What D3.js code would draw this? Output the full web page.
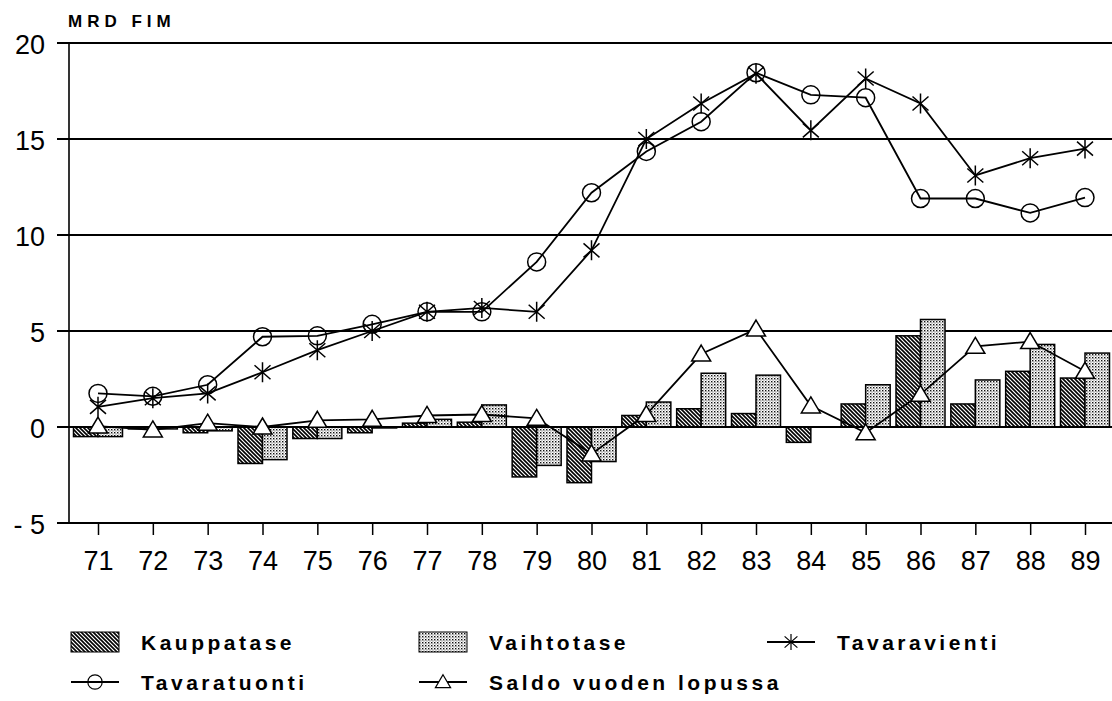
<html>
<head>
<script src="https://d3js.org/d3.v7.min.js"></script>
<style>
  body { margin: 0; background: #fff; }
  svg { display: block; }
  text { font-family: "Liberation Sans", Arial, Helvetica, sans-serif; fill: #000; }
</style>
</head>
<body>
<svg width="1112" height="701"></svg>
<script>
// values, MRD FIM
var years = ["71","72","73","74","75","76","77","78","79","80","81","82","83","84","85","86","87","88","89"];
var kauppatase   = [-0.5,-0.1,-0.3,-1.9,-0.6,-0.3,0.2,0.25,-2.6,-2.9,0.6,0.95,0.7,-0.8,1.2,4.75,1.2,2.9,2.55];
var vaihtotase   = [-0.5,-0.1,-0.2,-1.7,-0.6,-0.05,0.4,1.15,-2.0,-1.8,1.3,2.8,2.7,0.0,2.2,5.6,2.45,4.3,3.85];
var tavaravienti = [1.05,1.5,1.75,2.85,4.0,5.0,6.0,6.2,6.0,9.2,15.0,16.85,18.4,15.45,18.15,16.85,13.1,14.0,14.5];
var tavaratuonti = [1.75,1.6,2.2,4.7,4.75,5.35,6.0,6.0,8.6,12.2,14.35,15.9,18.45,17.3,17.15,11.9,11.9,11.15,11.95];
var saldo        = [0.05,-0.15,0.2,0.0,0.35,0.4,0.6,0.65,0.45,-1.4,0.65,3.8,5.1,1.1,-0.3,1.7,4.2,4.45,2.9];
var yTicks = [-5,0,5,10,15,20];
var legendNames = ["Kauppatase","Vaihtotase","Tavaravienti","Tavaratuonti","Saldo vuoden lopussa"];

var svg = d3.select("svg");

// patterns for the bars
var defs = svg.append("defs");
var hatch = defs.append("pattern").attr("id","hatch")
  .attr("patternUnits","userSpaceOnUse").attr("width",4).attr("height",4);
hatch.append("rect").attr("width",4).attr("height",4).attr("fill","#fff");
hatch.append("path").attr("d","M-1,-1 L5,5 M-1,3 L1,5 M3,-1 L5,1")
  .attr("stroke","#000").attr("stroke-width",1.6);

var dots = defs.append("pattern").attr("id","dots")
  .attr("patternUnits","userSpaceOnUse").attr("width",3).attr("height",3);
dots.append("rect").attr("width",3).attr("height",3).attr("fill","#fff");
dots.append("rect").attr("width",1.4).attr("height",1.4).attr("fill","#111");
dots.append("rect").attr("x",1.5).attr("y",1.5).attr("width",1).attr("height",1).attr("fill","#444");

var plotL = 69, plotT = 43, plotB = 523, plotR = 1112;

var x = d3.scalePoint().domain(years).range([98, 1085]);
var y = d3.scaleLinear().domain([-5, 20]).range([plotB, plotT]);
var barW = 24.5;

// gridlines
svg.append("g").selectAll("line").data(yTicks).enter().append("line")
  .attr("x1", plotL - 12).attr("x2", plotR)
  .attr("y1", function(d){ return y(d); }).attr("y2", function(d){ return y(d); })
  .attr("stroke","#000").attr("stroke-width",2.2);

// y axis
var yaxis = svg.append("g").attr("transform","translate(" + (plotL - 12) + ",0)")
  .call(d3.axisLeft(y).tickValues(yTicks).tickSize(0).tickPadding(12)
    .tickFormat(function(d){ return d < 0 ? "- " + Math.abs(d) : d; }));
yaxis.select(".domain").remove();
yaxis.selectAll("text").style("font-size","27px").attr("dy","0.38em")
  .style("font-family","'Liberation Sans', Arial, sans-serif").attr("fill","#000");

svg.append("line").attr("x1",plotL).attr("x2",plotL).attr("y1",plotT).attr("y2",plotB)
  .attr("stroke","#000").attr("stroke-width",1.6);

// x axis
var xaxis = svg.append("g").attr("transform","translate(0," + plotB + ")")
  .call(d3.axisBottom(x).tickSize(12).tickPadding(16));
xaxis.select(".domain").remove();
xaxis.selectAll("line").attr("stroke","#000").attr("stroke-width",1.5);
xaxis.selectAll("text").style("font-size","27px").attr("dy","0.71em")
  .style("font-family","'Liberation Sans', Arial, sans-serif").attr("fill","#000");

svg.append("text").attr("x",68).attr("y",27).text("MRD FIM")
  .style("font-size","17px").style("font-weight","bold").style("letter-spacing","5px");

// bars
function bars(vals, offset, fill) {
  svg.append("g").selectAll("rect").data(vals).enter().append("rect")
    .attr("x", function(d,i){ return x(years[i]) + offset; })
    .attr("y", function(d){ return y(Math.max(0,d)); })
    .attr("width", barW)
    .attr("height", function(d){ return Math.abs(y(d) - y(0)); })
    .attr("fill", fill).attr("stroke","#000").attr("stroke-width",1.5);
}
bars(kauppatase, -barW, "url(#hatch)");
bars(vaihtotase, 0, "url(#dots)");

// zero line on top of bars
svg.append("line").attr("x1",plotL).attr("x2",plotR).attr("y1",y(0)).attr("y2",y(0))
  .attr("stroke","#000").attr("stroke-width",2.2);

// markers
function circleMark(g) {
  g.append("circle").attr("r",9).attr("fill","none").attr("stroke","#000").attr("stroke-width",1.5);
}
function starMark(g) {
  g.append("path").attr("d","M0,-10 L0,10 M-8,-7 L8,7 M-8,7 L8,-7")
    .attr("stroke","#000").attr("stroke-width",1.5).attr("fill","none");
}
function triMark(g) {
  g.append("path").attr("d","M0,-9 L9.5,7 L-9.5,7 Z")
    .attr("fill","#fff").attr("stroke","#000").attr("stroke-width",1.5);
}

var line = d3.line()
  .x(function(d,i){ return x(years[i]); })
  .y(function(d){ return y(d); });

function series(vals, mark) {
  svg.append("path").datum(vals).attr("d", line)
    .attr("fill","none").attr("stroke","#000").attr("stroke-width",1.8);
  svg.append("g").selectAll("g").data(vals).enter().append("g")
    .attr("transform", function(d,i){ return "translate(" + x(years[i]) + "," + y(d) + ")"; })
    .each(function(){ mark(d3.select(this)); });
}
series(saldo, triMark);
series(tavaratuonti, circleMark);
series(tavaravienti, starMark);

// legend
var legendPos = [
  {x:71, y:642, kind:"hatch"},
  {x:419, y:642, kind:"dots"},
  {x:767, y:642, kind:"star"},
  {x:71, y:682, kind:"circle"},
  {x:419, y:682, kind:"tri"}
];
legendPos.forEach(function(p, i) {
  var g = svg.append("g").attr("transform","translate(" + p.x + "," + p.y + ")");
  if (p.kind == "hatch" || p.kind == "dots") {
    g.append("rect").attr("x",0).attr("y",-10).attr("width",48).attr("height",20)
      .attr("fill","url(#" + p.kind + ")").attr("stroke","#000").attr("stroke-width",1);
  } else {
    g.append("line").attr("x1",0).attr("x2",48).attr("stroke","#000").attr("stroke-width",1.8);
    var m = g.append("g").attr("transform","translate(24,0) scale(0.8)");
    if (p.kind == "star") starMark(m);
    if (p.kind == "circle") circleMark(m);
    if (p.kind == "tri") triMark(m);
  }
  g.append("text").attr("x",70).attr("y",8).text(legendNames[i])
    .style("font-size","21px").style("font-weight","bold").style("letter-spacing","3.5px");
});
</script>
</body>
</html>
